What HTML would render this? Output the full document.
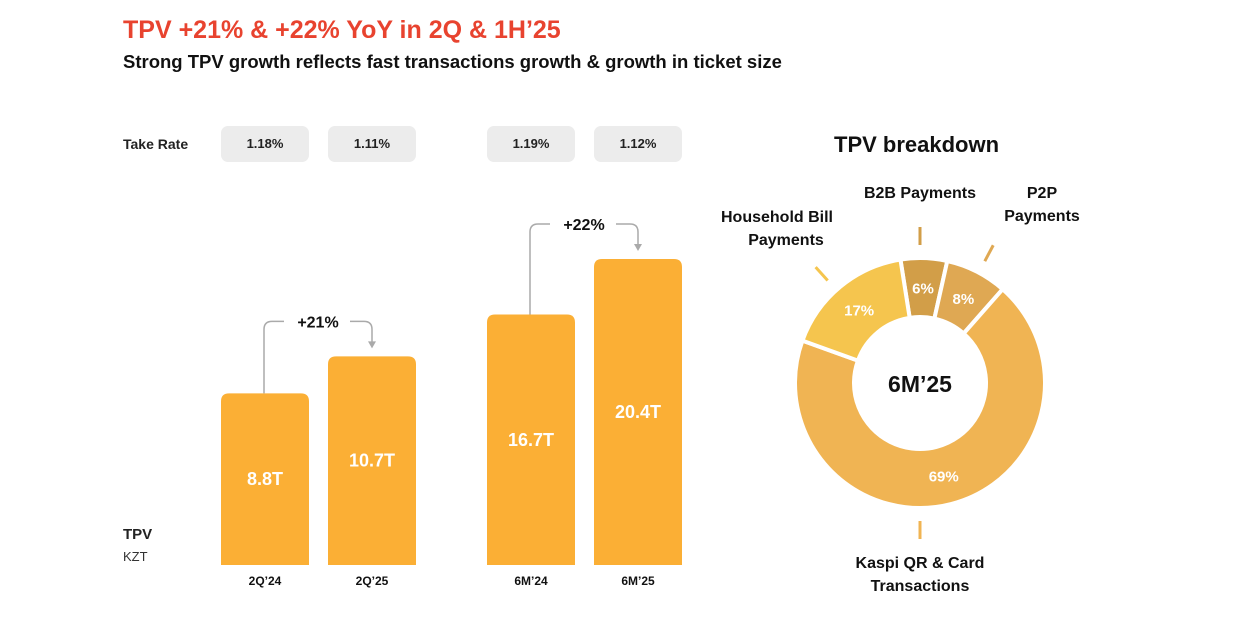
<!DOCTYPE html>
<html><head><meta charset="utf-8"><style>
body{margin:0;width:1233px;height:626px;background:#fff;font-family:"Liberation Sans",sans-serif;overflow:hidden;position:relative}
.t{position:absolute;white-space:nowrap}
.pill{position:absolute;top:126px;width:88px;height:36px;background:#ececec;border-radius:7px;font-size:13px;font-weight:bold;text-align:center;line-height:36px;color:#222}
</style></head><body>
<div class="t" style="left:123px;top:16px;font-size:25px;font-weight:bold;color:#E8432F">TPV +21% &amp; +22% YoY in 2Q &amp; 1H’25</div>
<div class="t" style="left:123px;top:51px;font-size:18.5px;font-weight:bold;color:#111">Strong TPV growth reflects fast transactions growth &amp; growth in ticket size</div>
<div class="t" style="left:123px;top:136px;font-size:14px;font-weight:bold;color:#222">Take Rate</div>
<div class="pill" style="left:221px">1.18%</div>
<div class="pill" style="left:328px">1.11%</div>
<div class="pill" style="left:487px">1.19%</div>
<div class="pill" style="left:594px">1.12%</div>
<div class="t" style="left:123px;top:526px;font-size:15px;font-weight:bold;color:#222">TPV</div>
<div class="t" style="left:123px;top:549px;font-size:13px;color:#333">KZT</div>
<div class="t" style="left:834px;top:132px;font-size:22px;font-weight:bold;color:#111">TPV breakdown</div>
<svg id="c" width="1233" height="626" style="position:absolute;left:0;top:0"></svg>
<script>
const cats=["2Q’24","2Q’25","6M’24","6M’25"];
const vals=[8.8,10.7,16.7,20.4];
const labels=["8.8T","10.7T","16.7T","20.4T"];
const growth=["+21%","+22%"];
const sliceNames=["B2B Payments","P2P Payments","Kaspi QR & Card Transactions","Household Bill Payments"];
const sliceVals=[6,8,69,17];
const sliceLabels=["6%","8%","69%","17%"];
const NS="http://www.w3.org/2000/svg",svg=document.getElementById('c');
function mk(t,a,p){const e=document.createElementNS(NS,t);for(const k in a)e.setAttribute(k,a[k]);(p||svg).appendChild(e);return e;}
const xs=[221,328,487,594],bw=88,base=565;
const scales=[19.5,19.5,15,15];
function y(i){return base-vals[i]*scales[i];}
for(let i=0;i<4;i++){
 const r=mk('path',{d:`M${xs[i]},${base}V${y(i)+8}q0,-8 8,-8h${bw-16}q8,0 8,8V${base}Z`,fill:'#FBAF35'});
 
 
 const t=mk('text',{x:xs[i]+bw/2,y:(y(i)+base)/2+6,'text-anchor':'middle','font-size':18,'font-weight':'bold',fill:'#fff'});t.textContent=labels[i];
 
 
 const c=mk('text',{x:xs[i]+bw/2,y:585,'text-anchor':'middle','font-size':12,'font-weight':'bold',fill:'#111'});c.textContent=cats[i];
 
 
}
for(let g=0;g<2;g++){
 const a=g*2,b=a+1,x1=xs[a]+bw/2-1,x2=xs[b]+bw/2;
 const top=y(b)-35;
 mk('path',{d:`M${x1},${y(a)}V${top+8}q0,-8 8,-8h12`,fill:'none',stroke:'#aaa','stroke-width':1.5});
 mk('path',{d:`M${x2-22},${top}h14q8,0 8,8v14`,fill:'none',stroke:'#aaa','stroke-width':1.5});
 mk('path',{d:`M${x2-4},${top+20}l4,7l4,-7z`,fill:'#aaa'});
 const t=mk('text',{x:(x1+x2)/2,y:top+6,'text-anchor':'middle','font-size':16,'font-weight':'bold',fill:'#111'});t.textContent=growth[g];
 
 
}
// donut
const cx=920,cy=383,R=125,r0=66,cols=['#D29E48','#DFA853','#F0B453','#F5C54E'];
const leaderAng=[0,28,180,-42];
const tot=sliceVals.reduce((a,b)=>a+b,0);let ang=-9;
function pt(a,rr){const t=(a-90)*Math.PI/180;return [cx+rr*Math.cos(t),cy+rr*Math.sin(t)];}
for(let i=0;i<sliceVals.length;i++){
 const sw=sliceVals[i]/tot*360,a0=ang,a1=ang+sw;ang=a1;
 const p1=pt(a0,R),p2=pt(a1,R),p3=pt(a1,r0),p4=pt(a0,r0),lg=sw>180?1:0;
 const p=mk('path',{d:`M${p1}A${R},${R} 0 ${lg} 1 ${p2}L${p3}A${r0},${r0} 0 ${lg} 0 ${p4}Z`,fill:cols[i],stroke:'#fff','stroke-width':4,'stroke-linejoin':'round'});
 
 
 const m=(a0+a1)/2,lp=pt(m,(R+r0)/2);
 const t=mk('text',{x:lp[0],y:lp[1]+6,'text-anchor':'middle','font-size':15,'font-weight':'bold',fill:'#fff'});t.textContent=sliceLabels[i];
 
 
 const q1=pt(leaderAng[i],R+13),q2=pt(leaderAng[i],R+31);
 mk('line',{x1:q1[0],y1:q1[1],x2:q2[0],y2:q2[1],stroke:cols[i],'stroke-width':3});
}
const ct=mk('text',{x:cx,y:cy+9,'text-anchor':'middle','font-size':23,'font-weight':'bold',fill:'#111'});ct.textContent="6M’25";
const ann=[["B2B Payments",920,198],["P2P",1042,198],["Payments",1042,221],["Household Bill",777,222],["Payments",786,245],["Kaspi QR & Card",920,568],["Transactions",920,591]];
for(const [s,x,yy] of ann){const t=mk('text',{x,y:yy,'text-anchor':'middle','font-size':16,'font-weight':'bold',fill:'#111'});t.textContent=s;
 
 }
</script>
</body></html>
